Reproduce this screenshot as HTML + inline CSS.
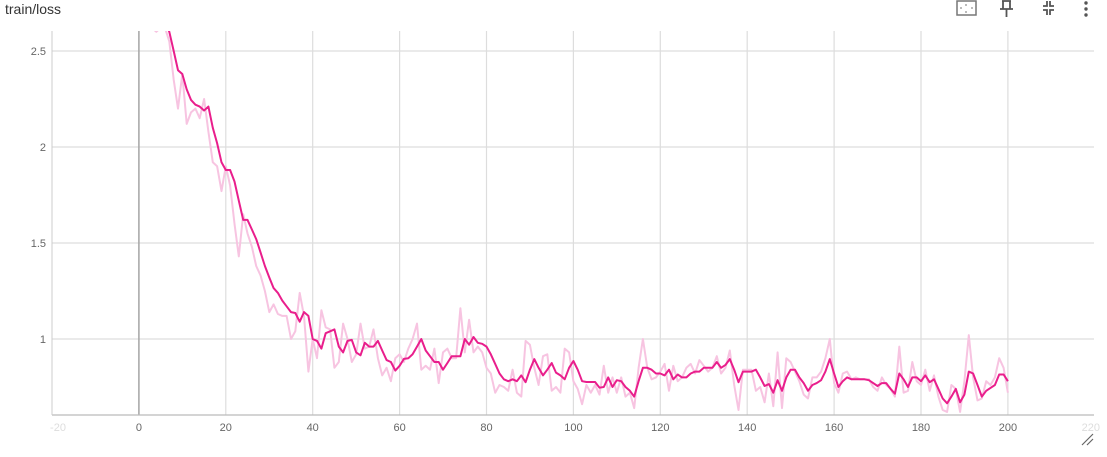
<!DOCTYPE html>
<html><head><meta charset="utf-8">
<style>
body{margin:0;background:#fff;font-family:"Liberation Sans",sans-serif;}
#wrap{position:relative;width:1107px;height:457px;overflow:hidden;}
</style></head>
<body>
<div id="wrap">
<svg id="svg" width="1107" height="457" xmlns="http://www.w3.org/2000/svg">
  <text x="5" y="14" font-size="14" fill="#333" font-family="Liberation Sans, sans-serif">train/loss</text>
  <g><rect x="957" y="1" width="19" height="14" fill="none" stroke="#777" stroke-width="1.5"/><path d="M966 4v2M966 11v2M960 8h2M971 8h2" stroke="#777"/></g>
  <g stroke="#555" stroke-width="1.8" fill="none"><path d="M1002 1h9M1003 1v8h7v-8M1000 9h13M1006.5 9v8"/></g>
  <g stroke="#555" stroke-width="1.8" fill="none"><path d="M1043 6h4v-5M1050 1v5h4M1043 10h4v5M1050 15v-5h4"/></g>
  <g fill="#555"><circle cx="1086" cy="3" r="1.7"/><circle cx="1086" cy="9" r="1.7"/><circle cx="1086" cy="15" r="1.7"/></g>
  <g id="grid"></g>
  <clipPath id="clip"><rect x="52" y="31" width="1042" height="384"/></clipPath>
  <g id="series" clip-path="url(#clip)"></g>
  <g id="labels"></g>
  <g stroke="#666" stroke-width="1.2"><path d="M1082 445l11-11M1087 445l6-6"/></g>
</svg>
</div>
<script>
const xTicks=[-20,0,20,40,60,80,100,120,140,160,180,200,220];
const yTicks=[1,1.5,2,2.5];
const yTickLabels=["1","1.5","2","2.5"];
const rawLoss=[2.9,2.8,2.7,2.62,2.6,2.62,2.62,2.55,2.35,2.2,2.38,2.12,2.18,2.2,2.15,2.25,2.08,1.92,1.9,1.77,1.9,1.8,1.6,1.43,1.65,1.55,1.48,1.38,1.33,1.25,1.14,1.18,1.13,1.12,1.12,1.0,1.04,1.24,1.12,0.83,1.0,0.9,1.15,1.06,1.05,0.85,0.88,1.08,1.0,0.88,0.92,1.08,0.95,0.96,1.05,0.9,0.81,0.85,0.78,0.9,0.92,0.88,0.95,1.0,1.08,0.84,0.86,0.84,0.95,0.77,0.93,0.95,0.9,0.9,1.16,0.93,1.1,0.93,0.96,0.93,0.85,0.82,0.72,0.76,0.75,0.73,0.84,0.72,0.7,0.99,0.97,0.85,0.76,0.91,0.92,0.73,0.75,0.72,0.95,0.93,0.78,0.74,0.66,0.76,0.72,0.76,0.71,0.86,0.72,0.8,0.72,0.8,0.7,0.72,0.64,0.85,1.0,0.85,0.79,0.8,0.83,0.87,0.73,0.86,0.78,0.8,0.85,0.87,0.82,0.89,0.86,0.83,0.85,0.91,0.82,0.85,0.94,0.76,0.63,0.84,0.84,0.84,0.73,0.75,0.67,0.82,0.65,0.93,0.64,0.9,0.88,0.83,0.78,0.71,0.69,0.8,0.8,0.83,0.9,1.0,0.77,0.72,0.82,0.83,0.79,0.8,0.79,0.79,0.79,0.75,0.73,0.8,0.76,0.74,0.7,0.96,0.72,0.73,0.88,0.78,0.76,0.84,0.73,0.81,0.7,0.63,0.62,0.76,0.74,0.62,0.78,1.02,0.8,0.68,0.69,0.78,0.76,0.8,0.9,0.85,0.72];
const smoothLoss=[2.95,2.9,2.85,2.8,2.75,2.7,2.65,2.6,2.5,2.4,2.38,2.3,2.245,2.22,2.21,2.19,2.21,2.1,2.02,1.92,1.88,1.88,1.82,1.72,1.62,1.62,1.57,1.52,1.45,1.38,1.32,1.265,1.24,1.2,1.17,1.14,1.135,1.09,1.14,1.12,1.0,0.99,0.95,1.03,1.04,1.05,0.96,0.93,0.99,0.995,0.93,0.915,0.98,0.96,0.96,0.99,0.94,0.89,0.88,0.835,0.86,0.896,0.9,0.92,0.96,1.0,0.94,0.91,0.88,0.88,0.84,0.875,0.91,0.91,0.91,1.0,0.97,1.01,0.98,0.975,0.96,0.92,0.87,0.82,0.79,0.78,0.79,0.78,0.81,0.775,0.84,0.895,0.85,0.81,0.84,0.875,0.825,0.81,0.79,0.85,0.885,0.84,0.78,0.776,0.776,0.776,0.746,0.75,0.8,0.75,0.785,0.78,0.75,0.73,0.7,0.78,0.85,0.85,0.84,0.82,0.82,0.81,0.84,0.79,0.815,0.8,0.8,0.82,0.83,0.83,0.85,0.85,0.85,0.88,0.85,0.865,0.895,0.84,0.775,0.83,0.83,0.83,0.84,0.8,0.755,0.765,0.72,0.785,0.73,0.8,0.84,0.84,0.8,0.77,0.73,0.76,0.77,0.785,0.83,0.895,0.82,0.75,0.78,0.8,0.79,0.79,0.79,0.79,0.785,0.77,0.755,0.77,0.77,0.74,0.715,0.82,0.79,0.75,0.8,0.8,0.78,0.81,0.775,0.79,0.74,0.69,0.665,0.7,0.74,0.67,0.71,0.83,0.82,0.76,0.7,0.73,0.745,0.76,0.815,0.815,0.78];

const NS="http://www.w3.org/2000/svg";
const X0=52,X1=1094.8,Y0=415,Y1=31;
const xMin=-20,xMax=220,yMin=0.604,yMax=2.604;
function xs(s){return X0+(s-xMin)/(xMax-xMin)*(X1-X0);}
function ys(v){return Y0-(v-yMin)/(yMax-yMin)*(Y0-Y1);}
function mk(tag,attrs,parent){const e=document.createElementNS(NS,tag);for(const k in attrs)e.setAttribute(k,attrs[k]);parent.appendChild(e);return e;}
const grid=document.getElementById('grid'),labels=document.getElementById('labels'),series=document.getElementById('series');

yTicks.forEach((t,i)=>{
  const l=mk('line',{x1:X0,x2:1094,y1:ys(t),y2:ys(t),stroke:'#ddd','stroke-width':1.2},grid);
  
  
  const tx=mk('text',{x:46,y:ys(t)+4,'text-anchor':'end','font-size':11,fill:'#666'},labels);
  tx.textContent=yTickLabels[i];
  
  
});
xTicks.forEach(t=>{
  if(t>-20&&t<220){
    const l=mk('line',{x1:xs(t),x2:xs(t),y1:Y1,y2:Y0,stroke:t===0?'#aaa':'#ddd','stroke-width':t===0?1.6:1.2},grid);
    
    
  }
  const faint=(t<0||t>200);
  const tx=mk('text',{x:xs(t)+(t<0?6:(t>200?-4:0)),y:431,'text-anchor':'middle','font-size':11,fill:faint?'#ddd':'#666'},labels);
  tx.textContent=String(t);
  
  
});
const ax=mk('line',{x1:X0,x2:1094,y1:Y0,y2:Y0,stroke:'#bbb','stroke-width':1.2},grid);


const ay=mk('line',{x1:X0,x2:X0,y1:Y1,y2:Y0,stroke:'#ccc','stroke-width':1},grid);



function pathOf(arr){return arr.map((v,i)=>(i?'L':'M')+xs(i).toFixed(1)+' '+ys(v).toFixed(1)).join(' ');}
const raw=mk('path',{d:pathOf(rawLoss),fill:'none',stroke:'#f7c4e1','stroke-width':2,'stroke-linejoin':'round'},series);


const sm=mk('path',{d:pathOf(smoothLoss),fill:'none',stroke:'#e91e8c','stroke-width':2,'stroke-linejoin':'round'},series);


</script>
</body></html>
